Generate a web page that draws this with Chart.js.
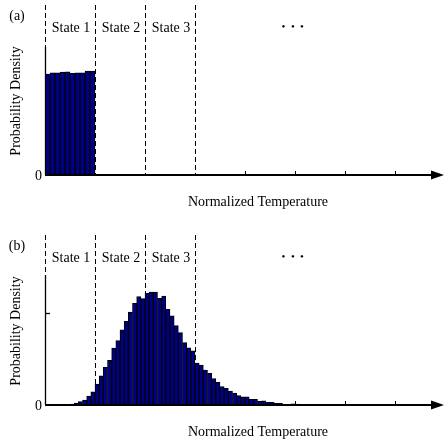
<!DOCTYPE html>
<html><head><meta charset="utf-8">
<script src="https://cdn.jsdelivr.net/npm/chart.js@4.4.1/dist/chart.umd.min.js"></script>
<style>
html,body{margin:0;padding:0;background:#fff;overflow:hidden}
canvas{position:absolute;left:0}
.ytitle{position:absolute;left:16px;width:0;height:0;font:14px "Liberation Serif","Times New Roman",serif;color:#000;white-space:nowrap}
.ytitle span{position:absolute;left:0;top:0;transform:translate(-50%,-50%) rotate(-90deg);line-height:16px}
</style>
</head><body>
<canvas id="ca" width="444" height="230" style="top:0"></canvas>
<canvas id="cb" width="444" height="216" style="top:230px"></canvas>
<div class="ytitle" id="ta" style="top:101px"><span></span></div>
<div class="ytitle" id="tb" style="top:331px"><span></span></div>
<script>
// ---- data ----
const panelLabels = ['(a)', '(b)'];
const xAxisTitle = 'Normalized Temperature';
const yAxisTitle = 'Probability Density';
const stateNames = ['State 1', 'State 2', 'State 3'];
const stateEdges = [0, 1, 2, 3];
const extraXTicks = [4, 5, 6, 7];
const ellipsisPositions = [4.77, 4.96, 5.14];
const binWidthA = 0.1;
const densityA = [0.981, 0.993, 0.993, 1.0, 1.003, 0.987, 0.993, 0.993, 1.01, 1.01];
const binWidthB = 1 / 12;
const densityB = [
  0.002, 0.002, 0.002, 0.003, 0.003, 0.004,
  0.005, 0.011, 0.018, 0.027, 0.049, 0.071,
  0.114, 0.159, 0.205, 0.243, 0.310, 0.350, 0.408, 0.455, 0.505,
  0.553, 0.589, 0.578, 0.607, 0.613, 0.613, 0.580, 0.592, 0.520, 0.484,
  0.431, 0.393, 0.339, 0.311, 0.294, 0.228, 0.217, 0.190, 0.172, 0.144,
  0.123, 0.100, 0.091, 0.075, 0.065, 0.051, 0.044, 0.044, 0.031, 0.031,
  0.020, 0.023, 0.015, 0.015, 0.009, 0.009, 0.004, 0.004, 0.007, 0.005, 0.002
];
const yTicksA = [];
const yTicksB = [0.5];

const FAMILY = '"Liberation Serif", "Times New Roman", serif';
const FONT = '14px ' + FAMILY;

document.querySelector('#ta span').textContent = yAxisTitle;
document.querySelector('#tb span').textContent = yAxisTitle;

function toPoints(arr, w) {
  return arr.map((v, i) => ({ x: (i + 0.5) * w, y: v }));
}

function panelPlugin(label, yTicks) {
  return {
    id: 'panel',
    beforeDatasetsDraw(chart) {
      const c = chart.ctx, xs = chart.scales.x, ys = chart.scales.y;
      const y0 = ys.getPixelForValue(0);
      c.save();
      c.strokeStyle = '#000';
      c.lineWidth = 1;
      c.setLineDash([5, 3]);
      stateEdges.forEach(v => {
        const px = Math.round(xs.getPixelForValue(v)) + 0.5;
        c.beginPath(); c.moveTo(px, 5); c.lineTo(px, y0); c.stroke();
      });
      c.setLineDash([]);
      extraXTicks.forEach(v => {
        const px = Math.round(xs.getPixelForValue(v)) + 0.5;
        c.beginPath(); c.moveTo(px, y0 - 4); c.lineTo(px, y0); c.stroke();
      });
      c.restore();
    },
    afterDatasetsDraw(chart) {
      const c = chart.ctx, xs = chart.scales.x, ys = chart.scales.y, a = chart.chartArea;
      const y0 = ys.getPixelForValue(0);
      const x0 = xs.getPixelForValue(0);
      c.save();
      c.strokeStyle = '#000'; c.fillStyle = '#000';
      c.lineWidth = 1.3;
      c.beginPath(); c.moveTo(Math.round(x0) + 0.5, a.top); c.lineTo(Math.round(x0) + 0.5, y0); c.stroke();
      yTicks.forEach(v => {
        const py = Math.round(ys.getPixelForValue(v)) + 0.5;
        c.beginPath(); c.moveTo(x0, py); c.lineTo(x0 + 5, py); c.stroke();
      });
      c.lineWidth = 2;
      c.beginPath(); c.moveTo(x0, y0); c.lineTo(433, y0); c.stroke();
      c.beginPath(); c.moveTo(431, y0 - 4.5); c.lineTo(444, y0); c.lineTo(431, y0 + 4.5); c.closePath(); c.fill();
      c.font = FONT;
      c.textBaseline = 'middle';
      c.textAlign = 'center';
      c.fillText(label, 17, 16);
      stateNames.forEach((s, i) => {
        const cx = (xs.getPixelForValue(stateEdges[i]) + xs.getPixelForValue(stateEdges[i + 1])) / 2;
        c.fillText(s, cx + 1, 28);
      });
      c.font = '11px ' + FAMILY;
      ellipsisPositions.forEach(v => c.fillText('\u2022', xs.getPixelForValue(v), 27));
      c.font = FONT;
      c.fillText(xAxisTitle, 258, 202);
      c.textAlign = 'right';
      c.fillText('0', 42, y0 + 1);
      c.restore();
    }
  };
}

function makeChart(id, data, w, yMax, padTop, padBottom, label, yTicks) {
  return new Chart(document.getElementById(id), {
    type: 'bar',
    data: {
      datasets: [{
        data: toPoints(data, w),
        backgroundColor: '#000084',
        borderColor: '#000000',
        borderWidth: 1,
        categoryPercentage: 1,
        barPercentage: 1
      }]
    },
    options: {
      responsive: false,
      animation: false,
      devicePixelRatio: 1,
      layout: { padding: { left: 45, right: 0, top: padTop, bottom: padBottom } },
      plugins: { legend: { display: false }, tooltip: { enabled: false }, title: { display: false } },
      scales: {
        x: { type: 'linear', min: 0, max: 7.98, display: false, offset: false },
        y: { type: 'linear', min: 0, max: yMax, display: false }
      }
    },
    plugins: [panelPlugin(label, yTicks)]
  });
}

makeChart('ca', densityA, binWidthA, 1.243, 47, 55, panelLabels[0], yTicksA);
makeChart('cb', densityB, binWidthB, 0.7065, 45, 41, panelLabels[1], yTicksB);
</script>
</body></html>
